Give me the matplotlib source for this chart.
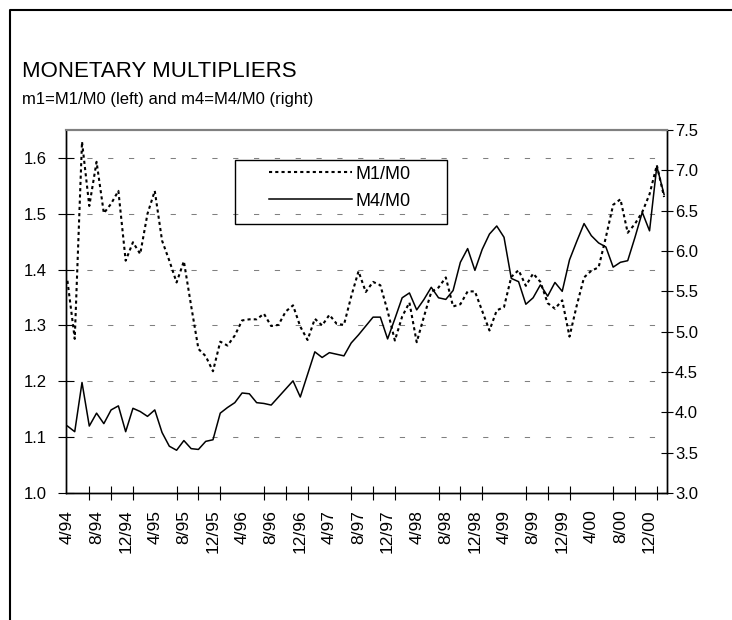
import numpy as np
import matplotlib.pyplot as plt
from matplotlib.lines import Line2D
from matplotlib.patches import Rectangle
from matplotlib.ticker import FixedLocator

plt.rcParams['font.family'] = ['Liberation Sans', 'DejaVu Sans']

# monthly data, 4/94 .. 2/01
m1 = [1.380, 1.276, 1.629, 1.514, 1.593, 1.501, 1.518, 1.541, 1.416, 1.449,
      1.428, 1.500, 1.541, 1.452, 1.416, 1.377, 1.415, 1.335, 1.258, 1.245,
      1.218, 1.271, 1.264, 1.282, 1.309, 1.311, 1.311, 1.321, 1.299, 1.301,
      1.325, 1.336, 1.298, 1.274, 1.312, 1.300, 1.319, 1.303, 1.301, 1.352,
      1.397, 1.360, 1.378, 1.372, 1.326, 1.273, 1.316, 1.341, 1.270, 1.316,
      1.360, 1.368, 1.386, 1.334, 1.338, 1.361, 1.361, 1.326, 1.291, 1.327,
      1.333, 1.387, 1.399, 1.371, 1.393, 1.378, 1.340, 1.330, 1.345, 1.280,
      1.336, 1.386, 1.398, 1.404, 1.458, 1.516, 1.526, 1.466, 1.482, 1.503,
      1.535, 1.587, 1.530]
m4 = [3.83, 3.76, 4.37, 3.83, 3.99, 3.86, 4.03, 4.08, 3.76, 4.05,
      4.01, 3.95, 4.03, 3.75, 3.58, 3.53, 3.65, 3.55, 3.54, 3.64,
      3.66, 3.99, 4.06, 4.12, 4.24, 4.23, 4.12, 4.11, 4.09, 4.19,
      4.29, 4.39, 4.19, 4.47, 4.75, 4.68, 4.74, 4.72, 4.70, 4.86,
      4.96, 5.07, 5.18, 5.18, 4.91, 5.16, 5.42, 5.48, 5.27, 5.40,
      5.55, 5.42, 5.40, 5.51, 5.86, 6.03, 5.76, 6.02, 6.21, 6.31,
      6.17, 5.66, 5.62, 5.34, 5.42, 5.58, 5.44, 5.61, 5.50, 5.89,
      6.12, 6.34, 6.19, 6.10, 6.05, 5.80, 5.86, 5.88, 6.17, 6.48,
      6.25, 7.05, 6.70]

start_year, start_month = 1994, 4
month_idx = np.arange(len(m1))
labels = []
for i in range(0, 81, 4):
    mo = (start_month - 1 + i) % 12 + 1
    yr = start_year + (start_month - 1 + i) // 12
    labels.append(f"{mo}/{yr % 100:02d}")

W, H = 732, 620
fig = plt.figure(figsize=(W / 100, H / 100), dpi=100)

ax = fig.add_axes([66 / W, 1 - 493 / H, 601 / W, 363 / H])
ax2 = ax.twinx()

ax.plot(month_idx, m1, color='black', lw=1.5, linestyle=(0, (1.5, 1.5)))
ax2.plot(month_idx, m4, color='black', lw=1.1)

ax.set_xlim(-0.2, 82.4)
ax.set_ylim(1.0, 1.65)
ax2.set_ylim(3.0, 7.5)

ax.set_yticks(np.arange(1.0, 1.61, 0.1))
ax.set_yticklabels([f"{v:.1f}" for v in np.arange(1.0, 1.61, 0.1)])
ax2.set_yticks(np.arange(3.0, 7.51, 0.5))
ax2.set_yticklabels([f"{v:.1f}" for v in np.arange(3.0, 7.51, 0.5)])

for v in np.arange(1.1, 1.61, 0.1):
    ax.axhline(v, color='#808080', lw=0.75, linestyle=(0, (5, 15)), zorder=0)

ax.xaxis.set_major_locator(FixedLocator(range(0, 81, 4)))
ax.set_xticklabels(labels, rotation=90)
ax.xaxis.set_minor_locator(FixedLocator(range(0, 82, 3)))
ax.tick_params(axis='x', which='major', length=0, pad=12, labelsize=12.5)
ax.tick_params(axis='x', which='minor', direction='inout', length=9.5, width=0.8)
ax.tick_params(axis='y', direction='inout', length=12, width=0.8, pad=8, labelsize=12)
ax2.tick_params(axis='y', direction='inout', length=8.5, width=0.8, pad=1.5, labelsize=12)

for a in (ax, ax2):
    a.spines['top'].set_color('#808080')
    a.spines['top'].set_linewidth(1.5)
    for s in ('left', 'right', 'bottom'):
        a.spines[s].set_linewidth(1.0)

# legend
handles = [Line2D([], [], color='black', lw=1.5, linestyle=(0, (1.5, 1.5))),
           Line2D([], [], color='black', lw=1.1)]
leg = fig.legend(handles, ['M1/M0', 'M4/M0'], loc='upper left',
                 bbox_to_anchor=(265 / W, 1 - 162 / H), frameon=False,
                 fontsize=13, handlelength=4.6, handletextpad=0.2,
                 labelspacing=0.55, borderpad=0.2, borderaxespad=0)
fig.add_artist(Rectangle((235 / W, 1 - 224 / H), 212 / W, 64 / H,
                         transform=fig.transFigure, fill=False,
                         edgecolor='black', lw=1.0))

# titles
fig.text(22 / W, 1 - 77 / H, "MONETARY MULTIPLIERS", fontsize=16, va='baseline')
fig.text(22 / W, 1 - 104 / H, "m1=M1/M0 (left) and m4=M4/M0 (right)",
         fontsize=12, va='baseline')

# outer frame (left and top)
fig.add_artist(Line2D([9.5 / W, 9.5 / W, 1], [0, 1 - 10 / H, 1 - 10 / H],
                      transform=fig.transFigure, color='black', lw=1.5))

fig.savefig('out.png', dpi=100)
